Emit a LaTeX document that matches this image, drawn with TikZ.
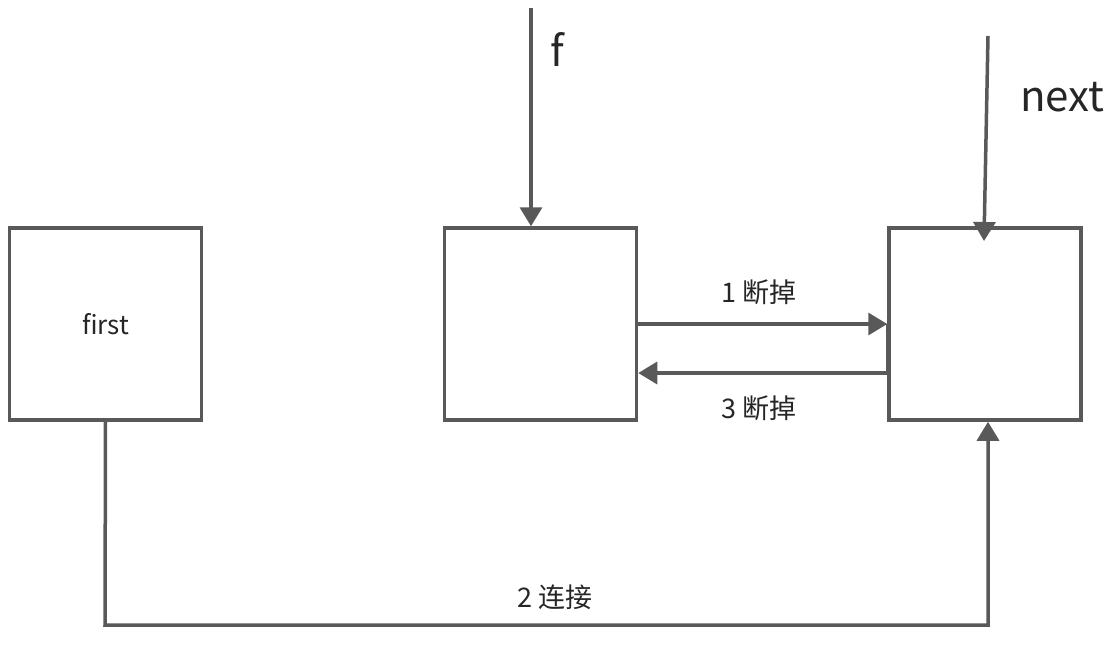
\documentclass[tikz,border=0pt]{standalone}
\usepackage{fontspec}
\setmainfont{Noto Sans CJK SC}
\usetikzlibrary{arrows.meta}
\definecolor{ln}{HTML}{595959}
\definecolor{tx}{HTML}{262626}
\tikzset{
  box/.style={draw=ln, line width=3.5pt, minimum width=192pt, minimum height=192pt, inner sep=0pt, text=tx},
  conn/.style={draw=ln, line width=3.5pt, -{Triangle[length=19pt,width=22pt]}},
  lbl/.style={text=tx, font=\fontsize{27}{30}\selectfont, inner sep=0pt},
  big/.style={text=tx, font=\fontsize{42}{48}\selectfont, inner sep=0pt}
}
\begin{document}
\begin{tikzpicture}[x=1pt,y=-1pt]
\useasboundingbox (0,0) rectangle (1119,659);
\node[box, font=\fontsize{26}{29}\selectfont] (first) at (105.5,324) {first};
\node[box] (mid) at (540.5,324) {};
\node[box] (nxt) at (985,324) {};
\coordinate (ftop) at (531,8);
\coordinate (ntop) at (988,36);
\node[big, anchor=west] (flbl) at (550,50) {f};
\node[big, anchor=west] (nlbl) at (1020,97) {next};
\draw[conn] (ftop) -- (mid.north -| ftop);
\draw[conn] (ntop) -- (984,241);
\draw[conn] (mid.east |- 0,324) -- (nxt.west |- 0,324);
\draw[draw=ln, line width=3.5pt] (nxt.west |- 0,324) -- (nxt.west |- 0,373);
\draw[conn] (nxt.west |- 0,373) -- (mid.east |- 0,373);
\node[lbl] (l1) at (759,292) {1 断掉};
\node[lbl] (l3) at (759,408) {3 断掉};
\draw[conn] (first.south) -- (105,625) -- (988,625) -- (nxt.south -| 988,0);
\node[lbl] (l2) at (555,597) {2 连接};
\end{tikzpicture}
\end{document}
